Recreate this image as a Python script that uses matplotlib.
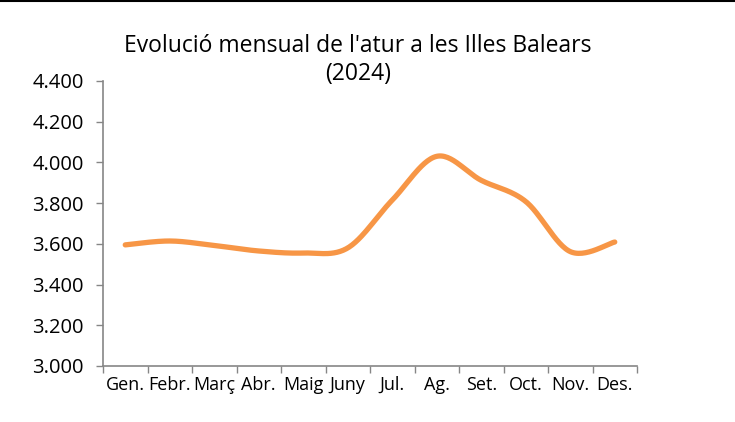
import numpy as np
import matplotlib.pyplot as plt
from matplotlib.ticker import FuncFormatter

mesos = ['Gen.', 'Febr.', 'Març', 'Abr.', 'Maig', 'Juny', 'Jul.', 'Ag.', 'Set.', 'Oct.', 'Nov.', 'Des.']
atur = [3595, 3614, 3592, 3565, 3555, 3580, 3815, 4030, 3912, 3808, 3562, 3609]

plt.rcParams['font.family'] = ['Open Sans', 'DejaVu Sans']


def suavitzat(x, y, n=30):
    # corba tipus Excel: bezier amb punts de control a 1/6
    x = np.asarray(x, float)
    y = np.asarray(y, float)
    px = np.concatenate([[x[0]], x, [x[-1]]])
    py = np.concatenate([[y[0]], y, [y[-1]]])
    xs, ys = [], []
    t = np.linspace(0, 1, n)
    for i in range(len(x) - 1):
        p0 = np.array([px[i + 1], py[i + 1]])
        p3 = np.array([px[i + 2], py[i + 2]])
        c1 = p0 + (np.array([px[i + 2], py[i + 2]]) - np.array([px[i], py[i]])) / 6
        c2 = p3 - (np.array([px[i + 3], py[i + 3]]) - np.array([px[i + 1], py[i + 1]])) / 6
        b = ((1 - t) ** 3)[:, None] * p0 + (3 * (1 - t) ** 2 * t)[:, None] * c1 \
            + (3 * (1 - t) * t ** 2)[:, None] * c2 + (t ** 3)[:, None] * p3
        xs.extend(b[:, 0])
        ys.extend(b[:, 1])
    return xs, ys


fig = plt.figure(figsize=(7.35, 4.22), dpi=100)
ax = fig.add_axes([103 / 735, 1 - 366 / 422, 534 / 735, 285 / 422])

x = np.arange(len(mesos))
sx, sy = suavitzat(x, atur)
ax.plot(sx, sy, color='#F79646', lw=3.8, solid_capstyle='round')

ax.set_xlim(-0.5, len(mesos) - 0.5)
ax.set_ylim(3000, 4400)
ax.set_yticks(np.arange(3000, 4401, 200))
ax.yaxis.set_major_formatter(FuncFormatter(lambda v, p: f'{int(v):,}'.replace(',', '.')))
ax.set_xticks(x)
ax.set_xticklabels(mesos)
ax.set_xticks(np.arange(-0.5, len(mesos), 1), minor=True)
ax.tick_params(axis='x', which='major', length=0, pad=7, labelsize=13)
ax.tick_params(axis='x', which='minor', length=5, color='#868686', width=1)
ax.tick_params(axis='y', length=5, color='#868686', width=1, labelsize=14.5, pad=9)

for s in ['top', 'right']:
    ax.spines[s].set_visible(False)
for s in ['left', 'bottom']:
    ax.spines[s].set_color('#868686')
    ax.spines[s].set_linewidth(1.2)

fig.text(358 / 735, 1 - 60 / 422, "Evolució mensual de l'atur a les Illes Balears\n(2024)",
         ha='center', va='center', fontsize=16.5, linespacing=1.2)

fig.add_artist(plt.Line2D([0, 1], [1 - 1 / 422, 1 - 1 / 422], color='black', lw=1.5))

fig.savefig('out.png', dpi=100)
